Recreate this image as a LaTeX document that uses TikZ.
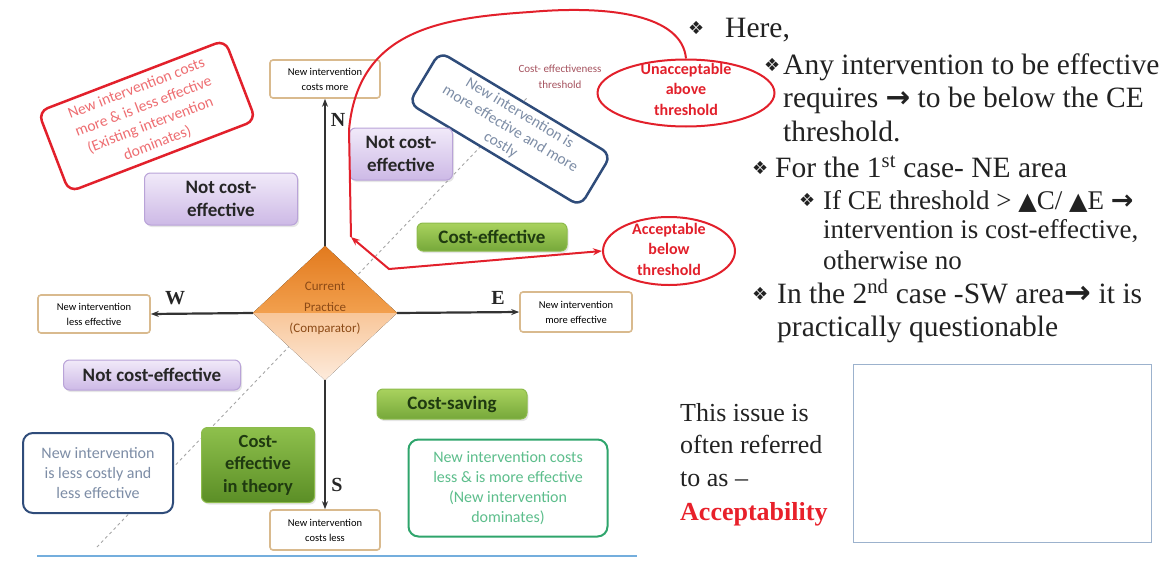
\documentclass[tikz,border=0pt]{standalone}
\usepackage{fontspec}
\setmainfont{Liberation Serif}
\newfontfamily\calib{Carlito}
\newfontfamily\dingfnt{DejaVu Sans}
\usetikzlibrary{shapes.geometric,arrows.meta,shadows}
\newcommand{\fsz}[2]{\fontsize{#1}{#2}\selectfont}

\definecolor{boxtan}{HTML}{D9BA8E}
\definecolor{lavtop}{HTML}{F1EAF9}
\definecolor{lavbot}{HTML}{CDB9E6}
\definecolor{lavline}{HTML}{B9A3D8}
\definecolor{grntop}{HTML}{A9D25E}
\definecolor{grnbot}{HTML}{76A83A}
\definecolor{grnline}{HTML}{8DBB4C}
\definecolor{grndeep}{HTML}{8EC04C}
\definecolor{grndark}{HTML}{5B8E26}
\definecolor{grntext}{HTML}{1F3A10}
\definecolor{redline}{HTML}{E2202B}
\definecolor{pinktext}{HTML}{EE6E72}
\definecolor{navy}{HTML}{2F4C7A}
\definecolor{bluetext}{HTML}{7D8DA6}
\definecolor{domgreen}{HTML}{2FA56C}
\definecolor{domtext}{HTML}{5DBE8C}
\definecolor{orgdark}{HTML}{E27A1E}
\definecolor{orgmid}{HTML}{F2A04E}
\definecolor{orglight}{HTML}{F8C699}
\definecolor{orgpale}{HTML}{FDEBDC}
\definecolor{browntext}{HTML}{8C4A16}
\definecolor{thmaroon}{HTML}{A5525E}
\definecolor{baseblue}{HTML}{74AEDD}
\definecolor{framegray}{HTML}{9CB2CD}
\definecolor{acred}{HTML}{E8202A}
\definecolor{txtgray}{HTML}{222222}

\begin{document}
\begin{tikzpicture}[x=1pt,y=-1pt]
\useasboundingbox (0,0) rectangle (1166,562);
\tikzset{
  endbox/.style={draw=boxtan,line width=1.6pt,fill=white,rounded corners=3pt,minimum width=110,minimum height=38,align=center,font=\calib\fsz{10.5}{15}},
  purplebox/.style={draw=lavline,line width=1pt,rounded corners=6pt,top color=lavtop,bottom color=lavbot,align=center,text=black!85,font=\calib\bfseries\fsz{19}{23},drop shadow={opacity=0.2,shadow xshift=1.5pt,shadow yshift=-2pt}},
  greenbox/.style={draw=grnline,line width=1pt,rounded corners=6pt,top color=grntop,bottom color=grnbot,align=center,text=grntext,font=\calib\bfseries\fsz{19}{23},drop shadow={opacity=0.2,shadow xshift=1.5pt,shadow yshift=-2pt}},
  notebox/.style={line width=2.5pt,rounded corners=10pt,fill=white,align=center,font=\calib\fsz{16}{20}},
  axisarrow/.style={-{Stealth[length=8pt,width=6pt]},line width=2.2pt,draw=black!80},
  axlabel/.style={font=\bfseries\fsz{20}{20},text=black!85},
  redarc/.style={draw=redline,line width=2pt},
  thresh/.style={draw=gray!70,dashed,line width=0.9pt},
  oval/.style={ellipse,draw=redline,line width=2pt,fill=white,inner sep=0},
  ovaltext/.style={align=center,text=redline,font=\calib\bfseries\fsz{16}{20.5}},
  rtext/.style={anchor=base west,inner sep=0,text=txtgray,font=\fsz{29.5}{34}},
  rsmall/.style={anchor=base west,inner sep=0,text=txtgray,font=\fsz{27}{31}},
  rissue/.style={anchor=base west,inner sep=0,text=txtgray,font=\fsz{26}{32}},
  bul/.style={anchor=base west,inner sep=0,text=txtgray,font=\dingfnt\fsz{18}{18}}
}

% threshold line
\coordinate (thlo) at (97,547);
\coordinate (thhi) at (527,98);
\path (thlo) edge[thresh] (thhi);
\node[font=\calib\fsz{11}{16},text=thmaroon,align=center] (ceth) at (560,77) {Cost- effectiveness\\threshold};

% quadrant notes
\node[notebox,draw=redline,text=pinktext,rotate=21,minimum width=200,minimum height=86,inner sep=1pt,font=\calib\fsz{15.5}{19.5}] (olddom) at (147,116) {New intervention costs\\more \& is less effective\\(Existing intervention\\dominates)};
\node[notebox,draw=navy,text=bluetext,rotate=-31,minimum width=200,minimum height=60,inner sep=1pt,font=\calib\fsz{15.5}{18.5}] (nepricey) at (510,129) {New intervention is\\more effective and more\\costly};
\node[notebox,draw=navy,line width=2pt,text=bluetext,minimum width=150,minimum height=80] (swcheap) at (98,473) {New intervention\\is less costly and\\less effective};
\node[notebox,draw=domgreen,line width=2pt,text=domtext,minimum width=199,minimum height=97] (newdom) at (508,488) {New intervention costs\\less \& is more effective\\(New intervention\\dominates)};

\node[purplebox,minimum width=153,minimum height=52] (ncetl) at (221,199) {Not cost-\\effective};
\node[purplebox,minimum width=103,minimum height=52] (ncetr) at (401,154) {Not cost-\\effective};
\node[purplebox,minimum width=177,minimum height=30] (ncebl) at (152,375) {Not cost-effective};
\node[greenbox,minimum width=150,minimum height=28] (ce) at (492,237) {Cost-effective};
\node[greenbox,minimum width=150,minimum height=30] (cs) at (452,404) {Cost-saving};
\node[greenbox,top color=grndeep,bottom color=grndark,minimum width=113,minimum height=75,font=\calib\bfseries\fsz{18.5}{22.5}] (cetheory) at (258,465) {Cost-\\effective\\in theory};

% axes
\node[endbox] (nbox) at (325,79) {New intervention\\costs more};
\node[endbox,minimum height=40] (sbox) at (325,530) {New intervention\\costs less};
\node[endbox,minimum width=112] (wbox) at (94,314) {New intervention\\less effective};
\node[endbox,minimum width=112,minimum height=40] (ebox) at (576,312) {New intervention\\more effective};

\node[diamond,minimum width=144,minimum height=134,inner sep=0] (cp) at (325,313) {};
\fill[top color=orgdark,bottom color=orgmid] (cp.west) -- (cp.north) -- (cp.east) -- cycle;
\fill[top color=orglight,bottom color=orgpale] (cp.west) -- (cp.east) -- (cp.south) -- cycle;
\node[align=center,text=browntext,font=\calib\fsz{13}{21}] (cptext) at (325,308) {Current\\Practice\\(Comparator)};

\path (cp.north) edge[axisarrow] (nbox.south);
\path (cp.south) edge[axisarrow] (sbox.north);
\path (cp.west) edge[axisarrow] (wbox.east);
\path (cp.east) edge[axisarrow] (ebox.west);

\node[axlabel] (nlab) at (338,120) {N};
\node[axlabel] (slab) at (337,485) {S};
\node[axlabel] (wlab) at (175,298) {W};
\node[axlabel] (elab) at (498,298) {E};

\draw[baseblue,line width=2pt] (37,556) -- (637,556);

% acceptability ovals
\node[oval,minimum width=177,minimum height=67] (unacc) at (686,93) {};
\node[ovaltext] (unacctext) at (686,89) {Unacceptable\\above\\threshold};
\node[oval,minimum width=132,minimum height=68] (acc) at (669,251) {};
\node[ovaltext] (acctext) at (669,249) {Acceptable\\below\\threshold};

\coordinate (kinkA) at (351,237);
\coordinate (kinkB) at (389,269);
\draw[redarc] (unacc.north) .. controls (682,15) and (610,5) .. (530,12) .. controls (440,18) and (358,30) .. (349,130) -- (kinkA);
\draw[redarc,{Stealth[length=9pt,width=7pt]}-{Stealth[length=9pt,width=7pt]}] (kinkA) -- (kinkB) -- (acc.west);

% notes on the right
\node[bul] (b1) at (688,34) {❖};
\node[rtext] (here) at (725,37) {Here,};
\node[bul] (b2) at (764,71) {❖};
\node[rtext] (any1) at (783,74) {Any intervention to be effective};
\node[rtext] (any2) at (783,107) {requires {\dingfnt\bfseries →} to be below the CE};
\node[rtext] (any3) at (783,141) {threshold.};
\node[bul] (b3) at (752,174) {❖};
\node[rtext] (first) at (775,177) {For the 1\textsuperscript{st} case- NE area};
\node[bul] (b4) at (799,206) {❖};
\node[rsmall] (if1) at (823,209) {If CE threshold > {\dingfnt\fsz{24}{24}▲}C/ {\dingfnt\fsz{24}{24}▲}E {\dingfnt\bfseries →}};
\node[rsmall] (if2) at (823,238) {intervention is cost-effective,};
\node[rsmall] (if3) at (823,269) {otherwise no};
\node[bul] (b5) at (752,300) {❖};
\node[rtext] (second) at (777,303) {In the 2\textsuperscript{nd} case -SW area{\dingfnt\bfseries\fsz{32}{32}→} it is};
\node[rtext] (second2) at (777,336) {practically questionable};

\node[rissue] (iss1) at (680,421) {This issue is};
\node[rissue] (iss2) at (680,453) {often referred};
\node[rissue] (iss3) at (680,486) {to as --};
\node[rissue,text=acred,font=\bfseries\fsz{26}{32}] (iss4) at (680,520) {Acceptability};
\node[draw=framegray,line width=1.2pt,minimum width=298,minimum height=178,anchor=north west,inner sep=0] (blank) at (853,364) {};
\end{tikzpicture}
\end{document}
